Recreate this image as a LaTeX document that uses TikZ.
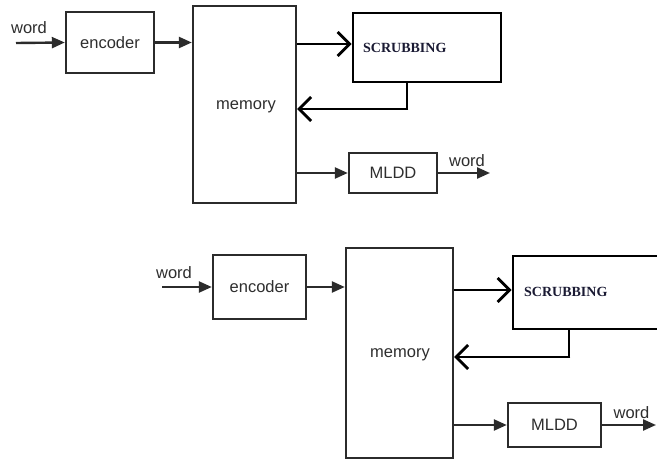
\documentclass[tikz,border=0pt]{standalone}
\usepackage{fontspec}
\setmainfont{Liberation Sans}
\newfontfamily\scrubfont{Liberation Serif}
\usetikzlibrary{arrows.meta}
\definecolor{boxline}{HTML}{2B2B2B}
\definecolor{labeltext}{HTML}{2E2E2E}
\definecolor{scrubtext}{HTML}{1A1A33}
\tikzset{
  block/.style={draw=boxline, line width=2.4pt, rectangle, inner sep=0pt,
    text=labeltext, font=\fontsize{16.5}{18}\selectfont},
  scrubbox/.style={draw=black, line width=2.8pt, rectangle, inner sep=0pt},
  scrublabel/.style={font=\scrubfont\bfseries\fontsize{14}{16}\selectfont,
    text=scrubtext, inner sep=0pt, anchor=west},
  wordlabel/.style={text=labeltext, font=\fontsize{16.5}{18}\selectfont,
    inner sep=0pt, anchor=base},
  flow/.style={draw=boxline, line width=2.4pt,
    -{Triangle[length=13pt,width=11pt]}},
  loop/.style={draw=black, line width=2.8pt,
    -{Straight Barb[length=12pt,width=24pt,line width=2.8pt]}},
  plain/.style={draw=black, line width=2.8pt}
}
\begin{document}
\begin{tikzpicture}[x=1pt,y=-1pt]
\useasboundingbox (0,0) rectangle (657,460);
\fill[white] (0,0) rectangle (657,460);
\clip (0,0) rectangle (657,460);

% ---------- first chain ----------
\node[wordlabel] (w1) at (29,34) {word};
\coordinate (in1) at (16,43);
\node[block, minimum width=88pt, minimum height=61pt] (enc1) at (110,42.5) {encoder};
\node[block, minimum width=103pt, minimum height=197pt] (mem1) at (244.5,104.5) {};
\node[text=labeltext, font=\fontsize{16.5}{18}\selectfont] (memt1) at (246,107) {memory};
\node[scrubbox, minimum width=148pt, minimum height=69pt] (scr1) at (427,47.5) {};
\node[scrublabel] (scrt1) at (363,48) {SCRUBBING};
\node[block, minimum width=88pt, minimum height=40pt] (mldd1) at (393,173) {MLDD};
\coordinate (out1) at (490,173);
\node[wordlabel] (w1o) at (467,167) {word};
\coordinate (fb1) at (407,109);

\draw[flow] (in1) -- (enc1.west);
\draw[flow] (enc1.east) -- (mem1.west |- enc1.east);
\draw[loop] (mem1.east |- 0,44) -- (scr1.west |- 0,44);
\draw[plain] (scr1.south -| fb1) -- (fb1);
\draw[loop] ([xshift=1.4pt]fb1) -- (mem1.east |- fb1);
\draw[flow] (mem1.east |- mldd1.west) -- (mldd1.west);
\draw[flow] (mldd1.east) -- (out1);

% ---------- second chain ----------
\node[wordlabel] (w2) at (174,278) {word};
\coordinate (in2) at (162,287);
\node[block, minimum width=93pt, minimum height=64pt] (enc2) at (259.5,287) {encoder};
\node[block, minimum width=107pt, minimum height=210pt] (mem2) at (399.5,353) {};
\node[text=labeltext, font=\fontsize{16.5}{18}\selectfont] (memt2) at (400,355) {memory};
\node[scrubbox, minimum width=152pt, minimum height=73pt] (scr2) at (589,292.5) {};
\node[scrublabel] (scrt2) at (524,292) {SCRUBBING};
\node[block, minimum width=93pt, minimum height=44pt] (mldd2) at (554.5,425) {MLDD};
\coordinate (out2) at (656,425);
\node[wordlabel] (w2o) at (631.5,418) {word};
\coordinate (fb2) at (569,357);

\draw[flow] (in2) -- (enc2.west);
\draw[flow] (enc2.east) -- (mem2.west |- enc2.east);
\draw[loop] (mem2.east |- 0,290) -- (scr2.west |- 0,290);
\draw[plain] (scr2.south -| fb2) -- (fb2);
\draw[loop] ([xshift=1.4pt]fb2) -- (mem2.east |- fb2);
\draw[flow] (mem2.east |- mldd2.west) -- (mldd2.west);
\draw[flow] (mldd2.east) -- (out2);
\end{tikzpicture}
\end{document}
